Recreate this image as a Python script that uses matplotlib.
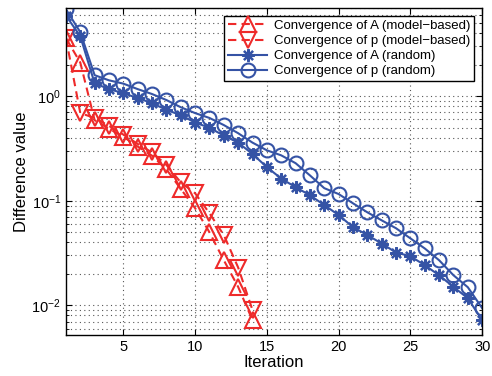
import matplotlib
matplotlib.use("Agg")
import matplotlib.pyplot as plt
from matplotlib.ticker import LogLocator, NullFormatter, MultipleLocator

plt.rcParams["font.family"] = ["Liberation Sans", "DejaVu Sans"]
plt.rcParams["mathtext.fontset"] = "custom"
plt.rcParams["mathtext.rm"] = "Liberation Sans"
plt.rcParams["mathtext.it"] = "Liberation Sans:italic"

# Data.
iter_mb = list(range(1, 15))
a_model = [3.6, 2.1, 0.59, 0.49, 0.41, 0.33, 0.27, 0.20, 0.13, 0.085, 0.050, 0.027, 0.015, 0.0072]
p_model = [3.6, 0.69, 0.62, 0.52, 0.43, 0.35, 0.29, 0.22, 0.15, 0.118, 0.076, 0.047, 0.023, 0.0090]

iter_rand = list(range(1, 31))
a_random = [5.9, 3.75, 1.33, 1.17, 1.07, 0.96, 0.86, 0.74, 0.66, 0.56,
            0.50, 0.42, 0.36, 0.28, 0.21, 0.163, 0.135, 0.113, 0.091, 0.073,
            0.056, 0.047, 0.039, 0.032, 0.0295, 0.0242, 0.0194, 0.015, 0.0117, 0.0072]
p_random = [6.8, 4.1, 1.59, 1.42, 1.32, 1.17, 1.05, 0.92, 0.785, 0.69,
            0.62, 0.53, 0.443, 0.36, 0.304, 0.272, 0.229, 0.175, 0.132, 0.116,
            0.0946, 0.0776, 0.065, 0.0546, 0.0437, 0.035, 0.027, 0.0194, 0.0149, 0.0094]

RED = "#ee2a2a"
BLUE = "#3553a5"
ASTERISK = (8, 2, 0)

fig = plt.figure(figsize=(4.92, 3.76), dpi=100)
ax = fig.add_axes([0.134, 0.109, 0.846, 0.870])

ax.semilogy(iter_mb, a_model, "--", color=RED, lw=1.5, marker="^", ms=11.5,
            mfc="none", mec=RED, mew=1.5, dashes=(4, 2.5),
            label="Convergence of A (model\u2212based)")
ax.semilogy(iter_mb, p_model, "--", color=RED, lw=1.5, marker="v", ms=11.5,
            mfc="none", mec=RED, mew=1.5, dashes=(4, 2.5),
            label="Convergence of p (model\u2212based)")
ax.semilogy(iter_rand, a_random, "-", color=BLUE, lw=1.5, marker=ASTERISK, ms=9,
            mfc=BLUE, mec=BLUE, mew=1.6, label="Convergence of A (random)")
ax.semilogy(iter_rand, p_random, "-", color=BLUE, lw=1.5, marker="o", ms=10,
            mfc="none", mec=BLUE, mew=1.5, label="Convergence of p (random)")

ax.set_xlim(1, 30)
ax.set_ylim(0.0052, 7)
ax.xaxis.set_major_locator(MultipleLocator(5))
ax.yaxis.set_major_locator(LogLocator(base=10, numticks=10))
ax.yaxis.set_minor_locator(LogLocator(base=10, subs=range(2, 10), numticks=20))
ax.yaxis.set_minor_formatter(NullFormatter())

ax.grid(True, which="major", axis="both", color="#555555", linestyle=(0, (1, 3)), lw=0.8)
ax.grid(True, which="minor", axis="y", color="#555555", linestyle=(0, (1, 3)), lw=0.8)
ax.tick_params(which="both", direction="in", top=True, right=True, labelsize=10.5)
ax.tick_params(which="major", length=4)
ax.tick_params(which="minor", length=2)
for s in ax.spines.values():
    s.set_linewidth(1.0)

ax.set_xlabel("Iteration", fontsize=12, labelpad=1)
ax.set_ylabel("Difference value", fontsize=12, labelpad=2)

leg = ax.legend(loc="upper right", fontsize=9.5, handlelength=3.0, borderpad=0.3,
                labelspacing=0.22, handletextpad=0.5, fancybox=False, framealpha=1,
                edgecolor="black", borderaxespad=0.6)
leg.get_frame().set_linewidth(1.0)

fig.savefig("out.png", dpi=100)
